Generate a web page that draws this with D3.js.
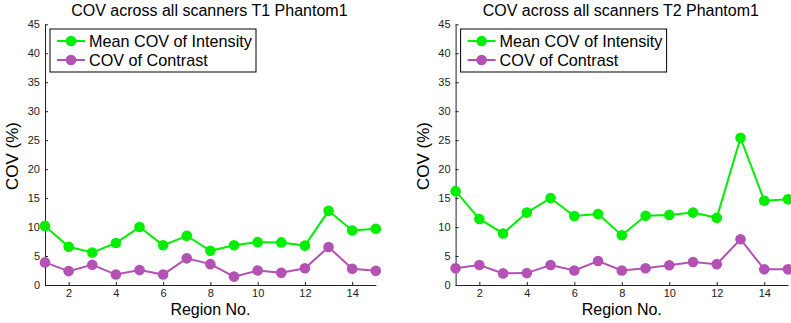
<!DOCTYPE html>
<html>
<head>
<meta charset="utf-8">
<script src="https://cdn.jsdelivr.net/npm/d3@7"></script>
<style>
  body { margin: 0; background: #fff; }
  svg { font-family: "Liberation Sans", Arial, sans-serif; }
</style>
</head>
<body>
<svg width="791" height="323"></svg>
<script>
var regions = [1, 2, 3, 4, 5, 6, 7, 8, 9, 10, 11, 12, 13, 14, 15];
var xTicks = [2, 4, 6, 8, 10, 12, 14];
var yTicks = [0, 5, 10, 15, 20, 25, 30, 35, 40, 45];

var t1Intensity = [10.2, 6.6, 5.6, 7.25, 10.0, 6.85, 8.5, 5.9, 6.85, 7.4, 7.35, 6.8, 12.8, 9.4, 9.7];
var t1Contrast = [3.9, 2.4, 3.5, 1.8, 2.6, 1.8, 4.6, 3.6, 1.45, 2.5, 2.1, 2.9, 6.55, 2.8, 2.45];
var t2Intensity = [16.2, 11.4, 8.9, 12.5, 15.0, 11.9, 12.25, 8.6, 11.95, 12.1, 12.5, 11.6, 25.4, 14.55, 14.8];
var t2Contrast = [2.9, 3.45, 2.0, 2.05, 3.45, 2.5, 4.15, 2.5, 2.9, 3.4, 3.97, 3.6, 7.9, 2.7, 2.7];

var seriesNames = ["Mean COV of Intensity", "COV of Contrast"];
var colors = ["#00ee00", "#b451b4"];

var svg = d3.select("svg");

function drawPanel(left, right, title, intensity, contrast) {
  var x = d3.scaleLinear().domain([1, 15]).range([left, right]);
  var y = d3.scaleLinear().domain([0, 45]).range([285, 24.3]);
  var g = svg.append("g");

  // axes, MATLAB-style inward ticks
  g.append("g")
      .attr("transform", "translate(0,285)")
      .call(d3.axisBottom(x).tickValues(xTicks).tickSizeInner(-3).tickSizeOuter(0).tickPadding(4))
      .call(function(a) {
        a.select(".domain").attr("stroke", "#222");
        a.selectAll("line").attr("stroke", "#222");
        a.selectAll("text").attr("font-size", 11).attr("fill", "#222");
      });
  g.append("g")
      .attr("transform", "translate(" + left + ",0)")
      .call(d3.axisLeft(y).tickValues(yTicks).tickSizeInner(-3).tickSizeOuter(0).tickPadding(5))
      .call(function(a) {
        a.select(".domain").attr("stroke", "#222");
        a.selectAll("line").attr("stroke", "#222");
        a.selectAll("text").attr("font-size", 11).attr("fill", "#222");
      });

  var mid = (left + right) / 2;
  g.append("text").attr("x", mid - 1).attr("y", 16).attr("text-anchor", "middle")
      .attr("font-size", 16).text(title);
  g.append("text").attr("x", mid).attr("y", 315).attr("text-anchor", "middle")
      .attr("font-size", 16).text("Region No.");
  g.append("text").attr("transform", "translate(" + (left - 27) + ",156) rotate(-90)")
      .attr("text-anchor", "middle").attr("font-size", 17).text("COV (%)");

  var line = d3.line()
      .x(function(d, i) { return x(regions[i]); })
      .y(function(d) { return y(d); });

  [intensity, contrast].forEach(function(vals, k) {
    g.append("path").datum(vals)
        .attr("d", line)
        .attr("fill", "none")
        .attr("stroke", colors[k])
        .attr("stroke-width", 2);
    g.selectAll(null).data(vals).enter().append("circle")
        .attr("cx", function(d, i) { return x(regions[i]); })
        .attr("cy", function(d) { return y(d); })
        .attr("r", 5.3)
        .attr("fill", colors[k]);
  });

  // legend
  var lg = g.append("g").attr("transform", "translate(" + (left + 5) + ",29)");
  lg.append("rect").attr("width", 206).attr("height", 43)
      .attr("fill", "#fff").attr("stroke", "#000").attr("stroke-width", 1);
  seriesNames.forEach(function(name, k) {
    var cy = 12 + k * 19;
    lg.append("line").attr("x1", 7).attr("x2", 35).attr("y1", cy).attr("y2", cy)
        .attr("stroke", colors[k]).attr("stroke-width", 2);
    lg.append("circle").attr("cx", 21).attr("cy", cy).attr("r", 5.3).attr("fill", colors[k]);
    lg.append("text").attr("x", 39).attr("y", cy + 5.5).attr("font-size", 16.2).text(name);
  });
}

drawPanel(45, 375.8, "COV across all scanners T1 Phantom1", t1Intensity, t1Contrast);
drawPanel(455.6, 788, "COV across all scanners T2 Phantom1", t2Intensity, t2Contrast);
</script>
</body>
</html>
